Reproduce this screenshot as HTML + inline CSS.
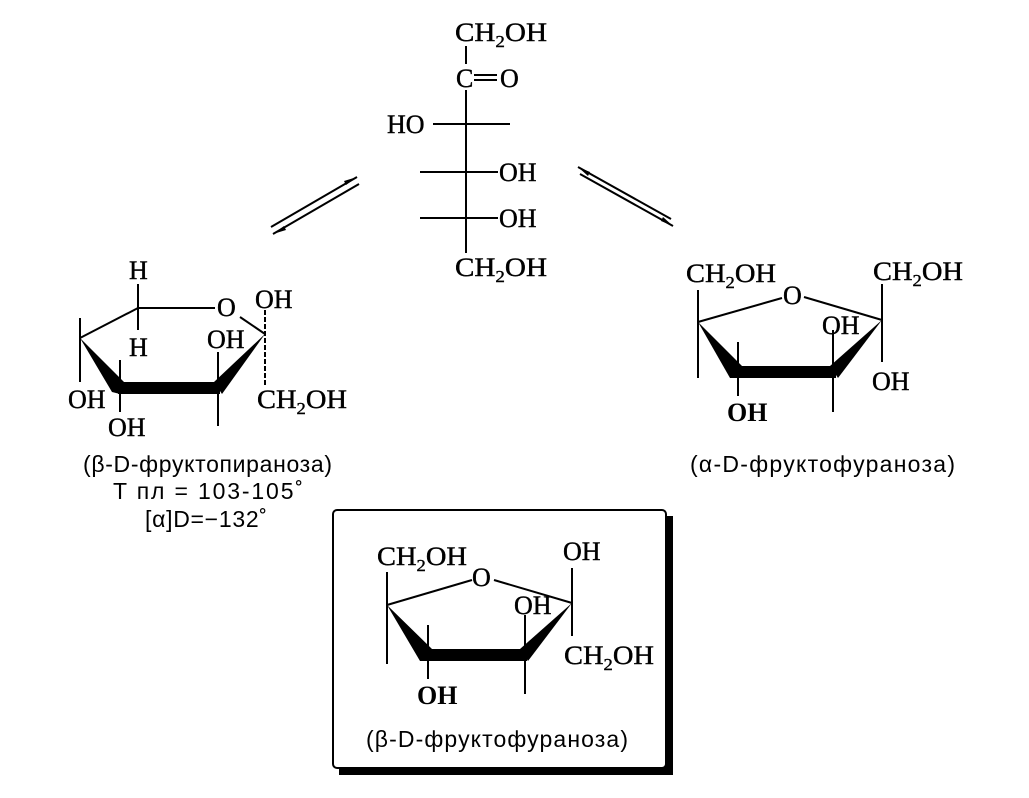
<!DOCTYPE html>
<html><head><meta charset="utf-8"><style>
html,body{margin:0;padding:0;background:#fff;}
svg{display:block;}
.s{font-family:"Liberation Serif",serif;font-size:26px;fill:#000;stroke:#000;stroke-width:0.4;}
.b{font-family:"Liberation Serif",serif;font-size:26px;font-weight:bold;fill:#000;}
.l{font-family:"Liberation Sans",sans-serif;font-size:23px;fill:#000;}
line{stroke:#000;stroke-width:2;}
</style></head><body>
<svg width="1029" height="798" viewBox="0 0 1029 798" xmlns="http://www.w3.org/2000/svg">
<!-- Fischer -->
<text class="s" x="455" y="41" textLength="92" lengthAdjust="spacingAndGlyphs">CH<tspan font-size="17" dy="6">2</tspan><tspan dy="-6">OH</tspan></text>
<line x1="466" y1="46" x2="466" y2="64"/>
<text class="s" x="456" y="87">C</text>
<line x1="474" y1="75" x2="497" y2="75"/><line x1="474" y1="80" x2="497" y2="80"/>
<text class="s" x="500" y="87">O</text>
<line x1="466" y1="90" x2="466" y2="253"/>
<text class="s" x="387" y="133">HO</text>
<line x1="433" y1="124" x2="510" y2="124"/>
<line x1="420" y1="172" x2="498" y2="172"/>
<text class="s" x="499" y="181">OH</text>
<line x1="420" y1="218" x2="498" y2="218"/>
<text class="s" x="499" y="227">OH</text>
<text class="s" x="455" y="276" textLength="92" lengthAdjust="spacingAndGlyphs">CH<tspan font-size="17" dy="6">2</tspan><tspan dy="-6">OH</tspan></text>
<!-- arrows left -->
<line x1="271" y1="227" x2="357" y2="177" stroke-width="1.5"/>
<polygon points="357,177 344,181 346,185" fill="#000"/>
<line x1="273" y1="234" x2="359" y2="184" stroke-width="1.5"/>
<polygon points="273,234 286,230 284,226" fill="#000"/>
<!-- arrows right -->
<line x1="578" y1="167" x2="671" y2="219" stroke-width="1.5"/>
<polygon points="578,167 588,176 590,172" fill="#000"/>
<line x1="580" y1="174" x2="673" y2="226" stroke-width="1.5"/>
<polygon points="673,226 663,217 661,221" fill="#000"/>

<!-- pyranose -->
<text class="s" x="129" y="279">H</text>
<line x1="138" y1="284" x2="138" y2="330"/>
<text class="s" x="129" y="356">H</text>
<line x1="80" y1="338" x2="138" y2="308" stroke-width="1.5"/>
<line x1="138" y1="308" x2="215" y2="308" stroke-width="1.5"/>
<text class="s" x="217" y="316">O</text>
<line x1="240" y1="317" x2="265" y2="334" stroke-width="1.5"/>
<polygon points="80,338 124,382 120,394 112,392" fill="#000"/>
<rect x="118" y="382" width="102" height="12" fill="#000"/>
<polygon points="214,382 265,334 222,394" fill="#000"/>
<line x1="80" y1="318" x2="80" y2="382"/>
<text class="s" x="68" y="408">OH</text>
<line x1="120" y1="360" x2="120" y2="412"/>
<text class="s" x="108" y="436">OH</text>
<line x1="218" y1="352" x2="218" y2="426"/>
<text class="s" x="207" y="348">OH</text>
<line x1="265" y1="310" x2="265" y2="386" stroke-dasharray="5,2"/>
<text class="s" x="255" y="308">OH</text>
<text class="s" x="257" y="408" textLength="90" lengthAdjust="spacingAndGlyphs">CH<tspan font-size="17" dy="6">2</tspan><tspan dy="-6">OH</tspan></text>
<text class="l" x="83" y="472" textLength="249">(β-D-фруктопираноза)</text>
<text class="l" x="113" y="499" textLength="190">T  пл  = 103-105˚</text>
<text class="l" x="145" y="527" textLength="122">[α]D=−132˚</text>

<!-- alpha furanose -->
<text class="s" x="686" y="282" textLength="90" lengthAdjust="spacingAndGlyphs">CH<tspan font-size="17" dy="6">2</tspan><tspan dy="-6">OH</tspan></text>
<line x1="698" y1="290" x2="698" y2="378"/>
<line x1="698" y1="322" x2="782" y2="298" stroke-width="1.5"/>
<text class="s" x="783" y="304">O</text>
<line x1="804" y1="297" x2="882" y2="320" stroke-width="1.5"/>
<polygon points="698,322 742,366 736,378 730,378" fill="#000"/>
<rect x="734" y="366" width="102" height="12" fill="#000"/>
<polygon points="830,366 882,320 838,378" fill="#000"/>
<line x1="882" y1="284" x2="882" y2="362"/>
<text class="s" x="873" y="280" textLength="90" lengthAdjust="spacingAndGlyphs">CH<tspan font-size="17" dy="6">2</tspan><tspan dy="-6">OH</tspan></text>
<text class="s" x="872" y="390">OH</text>
<line x1="738" y1="342" x2="738" y2="396"/>
<text class="b" x="727" y="421">OH</text>
<line x1="833" y1="330" x2="833" y2="412"/>
<text class="s" x="822" y="334">OH</text>
<text class="l" x="690" y="472" textLength="265">(α-D-фруктофураноза)</text>

<!-- box -->
<rect x="339" y="516" width="334" height="259" fill="#000"/>
<rect x="333" y="510" width="333" height="258" rx="4" fill="#fff" stroke="#000" stroke-width="2"/>
<text class="s" x="377" y="565" textLength="90" lengthAdjust="spacingAndGlyphs">CH<tspan font-size="17" dy="6">2</tspan><tspan dy="-6">OH</tspan></text>
<line x1="387" y1="572" x2="387" y2="664"/>
<line x1="387" y1="605" x2="472" y2="580" stroke-width="1.5"/>
<text class="s" x="472" y="586">O</text>
<line x1="494" y1="580" x2="572" y2="603" stroke-width="1.5"/>
<polygon points="387,605 432,649 426,661 420,661" fill="#000"/>
<rect x="424" y="649" width="103" height="12" fill="#000"/>
<polygon points="520,649 572,603 528,661" fill="#000"/>
<line x1="572" y1="568" x2="572" y2="636"/>
<text class="s" x="563" y="560">OH</text>
<text class="s" x="564" y="664" textLength="90" lengthAdjust="spacingAndGlyphs">CH<tspan font-size="17" dy="6">2</tspan><tspan dy="-6">OH</tspan></text>
<line x1="428" y1="625" x2="428" y2="679"/>
<text class="b" x="417" y="704">OH</text>
<line x1="525" y1="615" x2="525" y2="694"/>
<text class="s" x="514" y="614">OH</text>
<text class="l" x="366" y="747" textLength="262">(β-D-фруктофураноза)</text>
</svg>
</body></html>
